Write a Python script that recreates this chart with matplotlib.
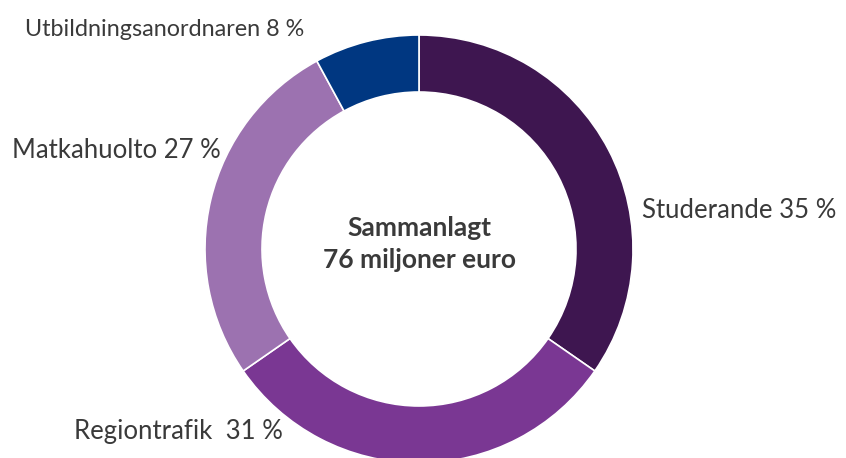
import matplotlib
matplotlib.use("Agg")
import matplotlib.pyplot as plt

plt.rcParams['font.family'] = ['Lato', 'DejaVu Sans']

labels = ["Studerande", "Regiontrafik ", "Matkahuolto", "Utbildningsanordnaren"]
shares = [35, 31, 27, 8]
colors = ["#3e1650", "#7a3793", "#9c72b0", "#003781"]
total_text = "Sammanlagt\n76 miljoner euro"

W, H = 846, 458
cx, cy, R = 419, 249, 214   # pixel centre / radius of ring

fig = plt.figure(figsize=(W / 100, H / 100), dpi=100)
ax = fig.add_axes([0, 0, 1, 1])
ax.pie(shares, colors=colors, startangle=90, counterclock=False, radius=1,
       wedgeprops=dict(width=57 / R, edgecolor="white", linewidth=1.2))
ax.set_xlim(-cx / R, (W - cx) / R)
ax.set_ylim(-(H - cy) / R, cy / R)
ax.set_aspect("auto")
ax.axis("off")

txt_col = "#3a3a3a"
# label positions in pixels (anchor x, centre y from top, align, size)
pos = [(642, 210, "left", 18.5), (283, 432, "right", 18.5),
       (221, 150, "right", 18.5), (304, 30, "right", 16.8)]
for lab, v, (px, py, ha, fs) in zip(labels, shares, pos):
    fig.text(px / W, 1 - py / H, f"{lab} {v} %", ha=ha, va="center",
             fontsize=fs, color=txt_col)

ax.text(0, (cy - 244) / R, total_text, ha="center", va="center", fontsize=19,
        fontweight="bold", color=txt_col, linespacing=1.35)

fig.savefig("out.png", dpi=100)
